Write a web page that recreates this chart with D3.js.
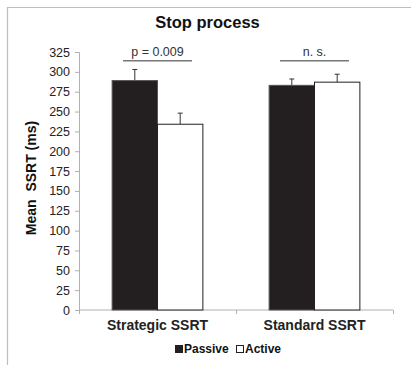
<!DOCTYPE html>
<html>
<head>
<meta charset="utf-8">
<script src="https://cdn.jsdelivr.net/npm/d3@7"></script>
<style>
  body { margin: 0; background: #fff; }
  text { font-family: "Liberation Sans", Arial, sans-serif; }
</style>
</head>
<body>
<div id="chart"></div>
<script>
const categories = ['Strategic SSRT', 'Standard SSRT'];
const series = ['Passive', 'Active'];
const passiveMeans = [289, 283];
const activeMeans = [234, 287];
const passiveErr = [14, 8];
const activeErr = [14, 10];
const yTicks = d3.range(0, 326, 25);
const sigLabels = ['p = 0.009', 'n. s.'];
const sigLevel = [314, 314];

const W = 411;
const H = 365;
const margin = { t: 52, r: 18, b: 55, l: 79 };
const innerW = W - margin.l - margin.r;
const innerH = H - margin.t - margin.b;

const rows = [];
categories.forEach((c, i) => {
  rows.push({ cat: c, s: 'Passive', v: passiveMeans[i], e: passiveErr[i] });
  rows.push({ cat: c, s: 'Active', v: activeMeans[i], e: activeErr[i] });
});

const x0 = d3.scaleBand().domain(categories).range([0, innerW]);
const x1 = d3.scaleBand().domain(series).range([0, x0.bandwidth()])
  .paddingInner(0).paddingOuter(0.73);
const y = d3.scaleLinear().domain([0, 325]).range([innerH, 0]);

const svg = d3.select('#chart').append('svg')
  .attr('width', W)
  .attr('height', H);

// frame (top + left only visible)
svg.append('path')
  .attr('d', `M7.5,${H} V7.5 H${W}`)
  .attr('fill', 'none')
  .attr('stroke', '#bdbdbd')
  .attr('stroke-width', 1.2);

svg.append('text')
  .attr('x', 207.5)
  .attr('y', 27.5)
  .attr('text-anchor', 'middle')
  .attr('font-size', 16.5)
  .attr('font-weight', 'bold')
  .attr('fill', '#111')
  .text('Stop process');

const g = svg.append('g')
  .attr('transform', `translate(${margin.l}, ${margin.t})`);

// y axis
const yAxis = d3.axisLeft(y).tickValues(yTicks).tickSize(4).tickPadding(5);
const gy = g.append('g').call(yAxis);
gy.select('.domain').attr('stroke', '#b0b0b0');
gy.selectAll('.tick line').attr('stroke', '#b0b0b0');
gy.selectAll('.tick text')
  .attr('font-size', 12.5)
  .attr('fill', '#222');

// x axis
const xAxis = d3.axisBottom(x0).tickSize(0).tickPadding(10);
const gx = g.append('g')
  .attr('transform', `translate(0, ${innerH})`)
  .call(xAxis);
gx.select('.domain').attr('stroke', '#b0b0b0').attr('d', `M0.5,0H${innerW}`);
gx.selectAll('.tick text')
  .attr('font-size', 14)
  .attr('font-weight', 'bold')
  .attr('fill', '#222');
gx.selectAll('.sep')
  .data(d3.range(categories.length + 1))
  .join('line')
  .attr('class', 'sep')
  .attr('x1', i => i * x0.step() + 0.5)
  .attr('x2', i => i * x0.step() + 0.5)
  .attr('y1', 0)
  .attr('y2', 4)
  .attr('stroke', '#b0b0b0');

// bars
const bar = g.selectAll('.bar')
  .data(rows)
  .join('g')
  .attr('class', 'bar')
  .attr('transform', d => `translate(${x0(d.cat) + x1(d.s)}, 0)`);

bar.append('line')
  .attr('x1', x1.bandwidth() / 2)
  .attr('x2', x1.bandwidth() / 2)
  .attr('y1', d => y(d.v))
  .attr('y2', d => y(d.v + d.e))
  .attr('stroke', '#333')
  .attr('stroke-width', 1);
bar.append('line')
  .attr('x1', x1.bandwidth() / 2 - 2.5)
  .attr('x2', x1.bandwidth() / 2 + 2.5)
  .attr('y1', d => y(d.v + d.e))
  .attr('y2', d => y(d.v + d.e))
  .attr('stroke', '#333')
  .attr('stroke-width', 1);

bar.append('rect')
  .attr('x', 0)
  .attr('y', d => y(d.v))
  .attr('width', x1.bandwidth())
  .attr('height', d => innerH - y(d.v))
  .attr('fill', d => d.s === 'Passive' ? '#231f20' : '#fff')
  .attr('stroke', d => d.s === 'Passive' ? '#555' : '#231f20')
  .attr('stroke-width', 1);

// significance brackets
categories.forEach((c, i) => {
  const cx = x0(c) + x0.bandwidth() / 2;
  g.append('line')
    .attr('x1', cx - 34.5)
    .attr('x2', cx + 34.5)
    .attr('y1', y(sigLevel[i]))
    .attr('y2', y(sigLevel[i]))
    .attr('stroke', '#777')
    .attr('stroke-width', 1.5);
  g.append('text')
    .attr('x', cx)
    .attr('y', y(sigLevel[i]) - 4.5)
    .attr('text-anchor', 'middle')
    .attr('font-size', 12.5)
    .attr('fill', '#333')
    .text(sigLabels[i]);
});

// y label
svg.append('text')
  .attr('transform', `translate(36, 178) rotate(-90)`)
  .attr('text-anchor', 'middle')
  .attr('font-size', 14)
  .attr('font-weight', 'bold')
  .attr('fill', '#111')
  .attr('xml:space', 'preserve')
  .style('white-space', 'pre')
  .text('Mean  SSRT (ms)');

// legend
const legendX = [175, 236];
const leg = svg.selectAll('.leg')
  .data(series)
  .join('g')
  .attr('class', 'leg')
  .attr('transform', (d, i) => `translate(${legendX[i]}, 345)`);
leg.append('rect')
  .attr('x', 0.5)
  .attr('y', 0.5)
  .attr('width', 7)
  .attr('height', 7)
  .attr('fill', d => d === 'Passive' ? '#231f20' : '#fff')
  .attr('stroke', '#231f20')
  .attr('stroke-width', 1);
leg.append('text')
  .attr('x', 9)
  .attr('y', 8)
  .attr('font-size', 12)
  .attr('font-weight', 'bold')
  .attr('fill', '#111')
  .text(d => d);
</script>
</body>
</html>
